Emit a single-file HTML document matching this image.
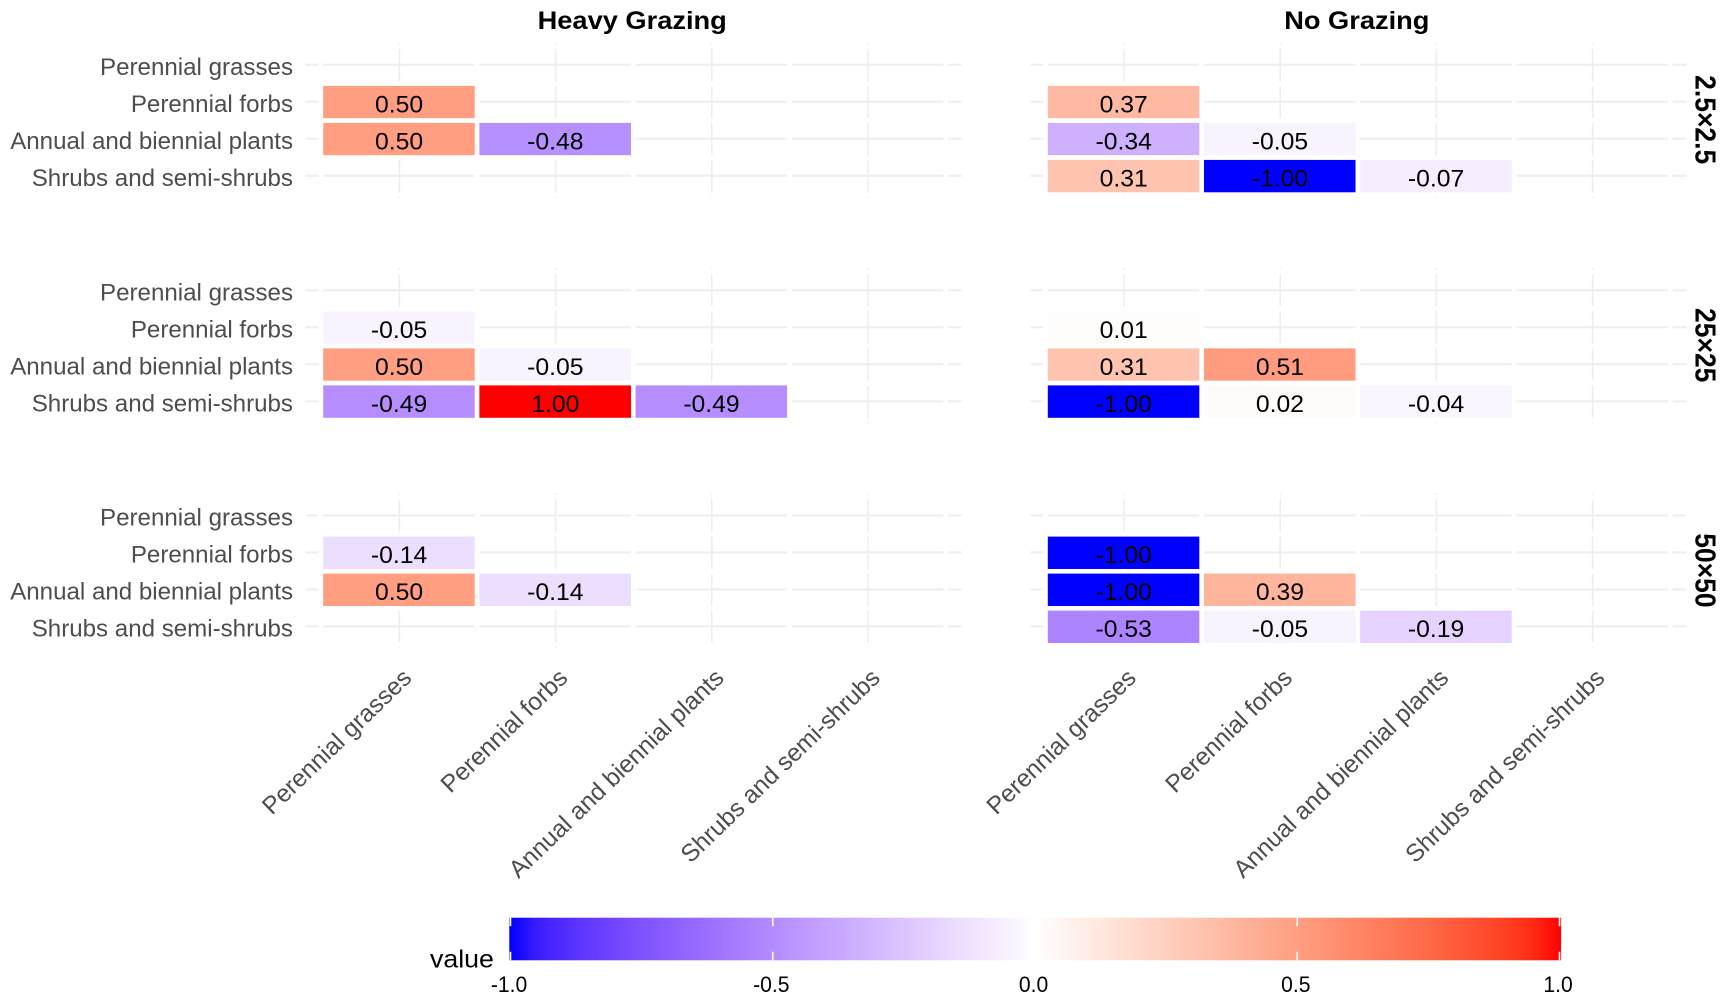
<!DOCTYPE html>
<html lang="en">
<head>
<meta charset="utf-8">
<title>Correlation heatmaps by grazing treatment and plot scale</title>
<style>
html,body{margin:0;padding:0;background:#fff;}
svg{display:block;font-family:"Liberation Sans",Arial,sans-serif;filter:blur(0.35px);}
</style>
</head>
<body>
<svg id="chart" xmlns="http://www.w3.org/2000/svg" width="1727" height="1003" viewBox="0 0 1727 1003"></svg>
<script>
const categories = ['Perennial grasses', 'Perennial forbs', 'Annual and biennial plants', 'Shrubs and semi-shrubs'];
const grazingTitles = ['Heavy Grazing', 'No Grazing'];
const scaleTitles = ['2.5×2.5', '25×25', '50×50'];
const legendTicks = [-1, -0.5, 0, 0.5, 1];
const legendTitle = 'value';

// Each row is one y category; each entry is one x category; null = no tile.
const heavy2_5 = [
  [null, null, null, null],
  [0.50, null, null, null],
  [0.50, -0.48, null, null],
  [null, null, null, null]
];
const heavy25 = [
  [null, null, null, null],
  [-0.05, null, null, null],
  [0.50, -0.05, null, null],
  [-0.49, 1.00, -0.49, null]
];
const heavy50 = [
  [null, null, null, null],
  [-0.14, null, null, null],
  [0.50, -0.14, null, null],
  [null, null, null, null]
];
const none2_5 = [
  [null, null, null, null],
  [0.37, null, null, null],
  [-0.34, -0.05, null, null],
  [0.31, -1.00, -0.07, null]
];
const none25 = [
  [null, null, null, null],
  [0.01, null, null, null],
  [0.31, 0.51, null, null],
  [-1.00, 0.02, -0.04, null]
];
const none50 = [
  [null, null, null, null],
  [-1.00, null, null, null],
  [-1.00, 0.39, null, null],
  [-0.53, -0.05, -0.19, null]
];
const panelValues = [[heavy2_5, none2_5], [heavy25, none25], [heavy50, none50]];

const svg = document.getElementById('chart');
const NS = 'http://www.w3.org/2000/svg';

function mk(tag, attrs, parent) {
  const el = document.createElementNS(NS, tag);
  for (const k in attrs) el.setAttribute(k, attrs[k]);
  (parent || svg).appendChild(el);
  return el;
}

// sRGB <-> Lab, so the diverging scale interpolates the way the plot does
function toLab(c) {
  const l = c.map(v => { v /= 255; return v > 0.04045 ? Math.pow((v + 0.055) / 1.055, 2.4) : v / 12.92; });
  const X = (0.4124 * l[0] + 0.3576 * l[1] + 0.1805 * l[2]) / 0.95047;
  const Y = 0.2126 * l[0] + 0.7152 * l[1] + 0.0722 * l[2];
  const Z = (0.0193 * l[0] + 0.1192 * l[1] + 0.9505 * l[2]) / 1.08883;
  const f = t => t > 0.008856 ? Math.cbrt(t) : 7.787 * t + 16 / 116;
  return [116 * f(Y) - 16, 500 * (f(X) - f(Y)), 200 * (f(Y) - f(Z))];
}
function fromLab(lab) {
  const fy = (lab[0] + 16) / 116, fx = fy + lab[1] / 500, fz = fy - lab[2] / 200;
  const g = t => t * t * t > 0.008856 ? t * t * t : (t - 16 / 116) / 7.787;
  const X = g(fx) * 0.95047, Y = g(fy), Z = g(fz) * 1.08883;
  const r = [
    3.2406 * X - 1.5372 * Y - 0.4986 * Z,
    -0.9689 * X + 1.8758 * Y + 0.0415 * Z,
    0.0557 * X - 0.2040 * Y + 1.0570 * Z
  ];
  const out = r.map(v => {
    v = Math.min(1, Math.max(0, v));
    v = v > 0.0031308 ? 1.055 * Math.pow(v, 1 / 2.4) - 0.055 : 12.92 * v;
    return Math.round(v * 255);
  });
  return 'rgb(' + out.join(',') + ')';
}
const labWhite = toLab([255, 255, 255]);
const labRed = toLab([255, 0, 0]);
const labBlue = toLab([0, 0, 255]);
function fillScale(v) {
  const t = Math.min(1, Math.abs(v));
  const end = v >= 0 ? labRed : labBlue;
  return fromLab(labWhite.map((w, i) => w + (end[i] - w) * t));
}

// Axis functions
const colPitch = 156.2;
const rowPitch = 37;
const colStart = [399.4, 1124];
const rowStart = [64.7, 290.2, 515.4];
const xBand = (panel, i) => colStart[panel] + i * colPitch;
const yBand = (row, i) => rowStart[row] + i * rowPitch;
const legendX = v => 1035 + v * 524.5;

const GRID = '#eeeeee';

function label(str, x, y, size, opts) {
  const o = opts || {};
  const t = mk('text', {
    transform: 'translate(' + x + ',' + y + ') rotate(' + (o.rot || 0) + ') scale(' + (o.sx || 1) + ',' + (o.sy || 1) + ')',
    'font-size': size,
    fill: o.fill || '#000',
    'text-anchor': o.anchor || 'middle',
    'font-weight': o.bold ? 'bold' : 'normal'
  });
  t.textContent = str;
  return t;
}

// Facet titles
grazingTitles.forEach((title, p) => {
  const el = label(title, xBand(p, 1.5) - 1.5, 29, 25, { bold: true, sx: 1.09 });
  
  
});
scaleTitles.forEach((title, r) => {
  const el = label(title, 1695.5, yBand(r, 1.5) - 0.5, 26.5, { bold: true, rot: 90, sy: 1.1 });
  
  
});

// Panels
panelValues.forEach((rowPanels, r) => {
  rowPanels.forEach((values, p) => {
    const panel = mk('g', {});
    
    

    const left = xBand(p, -0.6), right = xBand(p, categories.length - 0.4);
    const top = yBand(r, -0.6), bottom = yBand(r, categories.length - 0.4);

    categories.forEach((c, i) => {
      const h = mk('line', { x1: left, x2: right, y1: yBand(r, i), y2: yBand(r, i), stroke: GRID, 'stroke-width': 2 }, panel);
      
      
      const v = mk('line', { x1: xBand(p, i), x2: xBand(p, i), y1: top, y2: bottom, stroke: GRID, 'stroke-width': 1.6 }, panel);
      
      
    });

    // Tiles: empty combinations still carry the white border that cuts the grid
    values.forEach((row, yi) => {
      row.forEach((val, xi) => {
        const tile = mk('rect', {
          x: xBand(p, xi - 0.5) - 0.4,
          y: yBand(r, yi - 0.5) + 0.4,
          width: colPitch,
          height: rowPitch,
          fill: val === null ? 'none' : fillScale(val),
          stroke: '#fff',
          'stroke-width': 4.6
        }, panel);
        
        
      });
    });
    values.forEach((row, yi) => {
      row.forEach((val, xi) => {
        if (val === null) return;
        const txt = label(val.toFixed(2), xBand(p, xi) - 0.3, yBand(r, yi) + 10.6, 24, { sx: 1.03 });
        
        
        panel.appendChild(txt);
      });
    });

    // Y tick labels only on the left column of panels
    if (p === 0) {
      categories.forEach((c, i) => {
        const yl = label(c, 293, yBand(r, i) + 10.3, 24, { anchor: 'end', fill: '#4d4d4d', sx: 1.005 });
        
        
      });
    }
  });
});

// X tick labels under both bottom panels
grazingTitles.forEach((title, p) => {
  categories.forEach((c, i) => {
    const xl = label(c, xBand(p, i) + 13.5, 679.5, 24.5, { anchor: 'end', fill: '#4d4d4d', rot: -44 });
    
    
  });
});

// Colour bar legend
const defs = mk('defs', {});
const grad = mk('linearGradient', { id: 'legend-gradient', x1: '0', x2: '1', y1: '0', y2: '0' }, defs);
const legendSteps = 40;
for (let i = 0; i <= legendSteps; i++) {
  const f = i / legendSteps;
  mk('stop', { offset: f, 'stop-color': fillScale(f * 2 - 1) }, grad);
}
const barLeft = legendX(legendTicks[0]) - 1.2;
const barRight = legendX(legendTicks[legendTicks.length - 1]) + 1.6;
const barTop = 917.7, barBottom = 960.3, tickLen = 8.5;
const bar = mk('rect', { x: barLeft, y: barTop, width: barRight - barLeft, height: barBottom - barTop, fill: 'url(#legend-gradient)' });


legendTicks.forEach(v => {
  const t1 = mk('line', { x1: legendX(v), x2: legendX(v), y1: barTop, y2: barTop + tickLen, stroke: '#fff', 'stroke-width': 1.6 });
  
  
  const t2 = mk('line', { x1: legendX(v), x2: legendX(v), y1: barBottom - tickLen, y2: barBottom, stroke: '#fff', 'stroke-width': 1.6 });
  
  
  const tl = label(v.toFixed(1), legendX(v) - 1.5, 992, 22, { sx: 0.96 });
  
  
});
const lt = label(legendTitle, 430, 967.7, 25, { anchor: 'start', sx: 1.07 });


</script>
</body>
</html>
